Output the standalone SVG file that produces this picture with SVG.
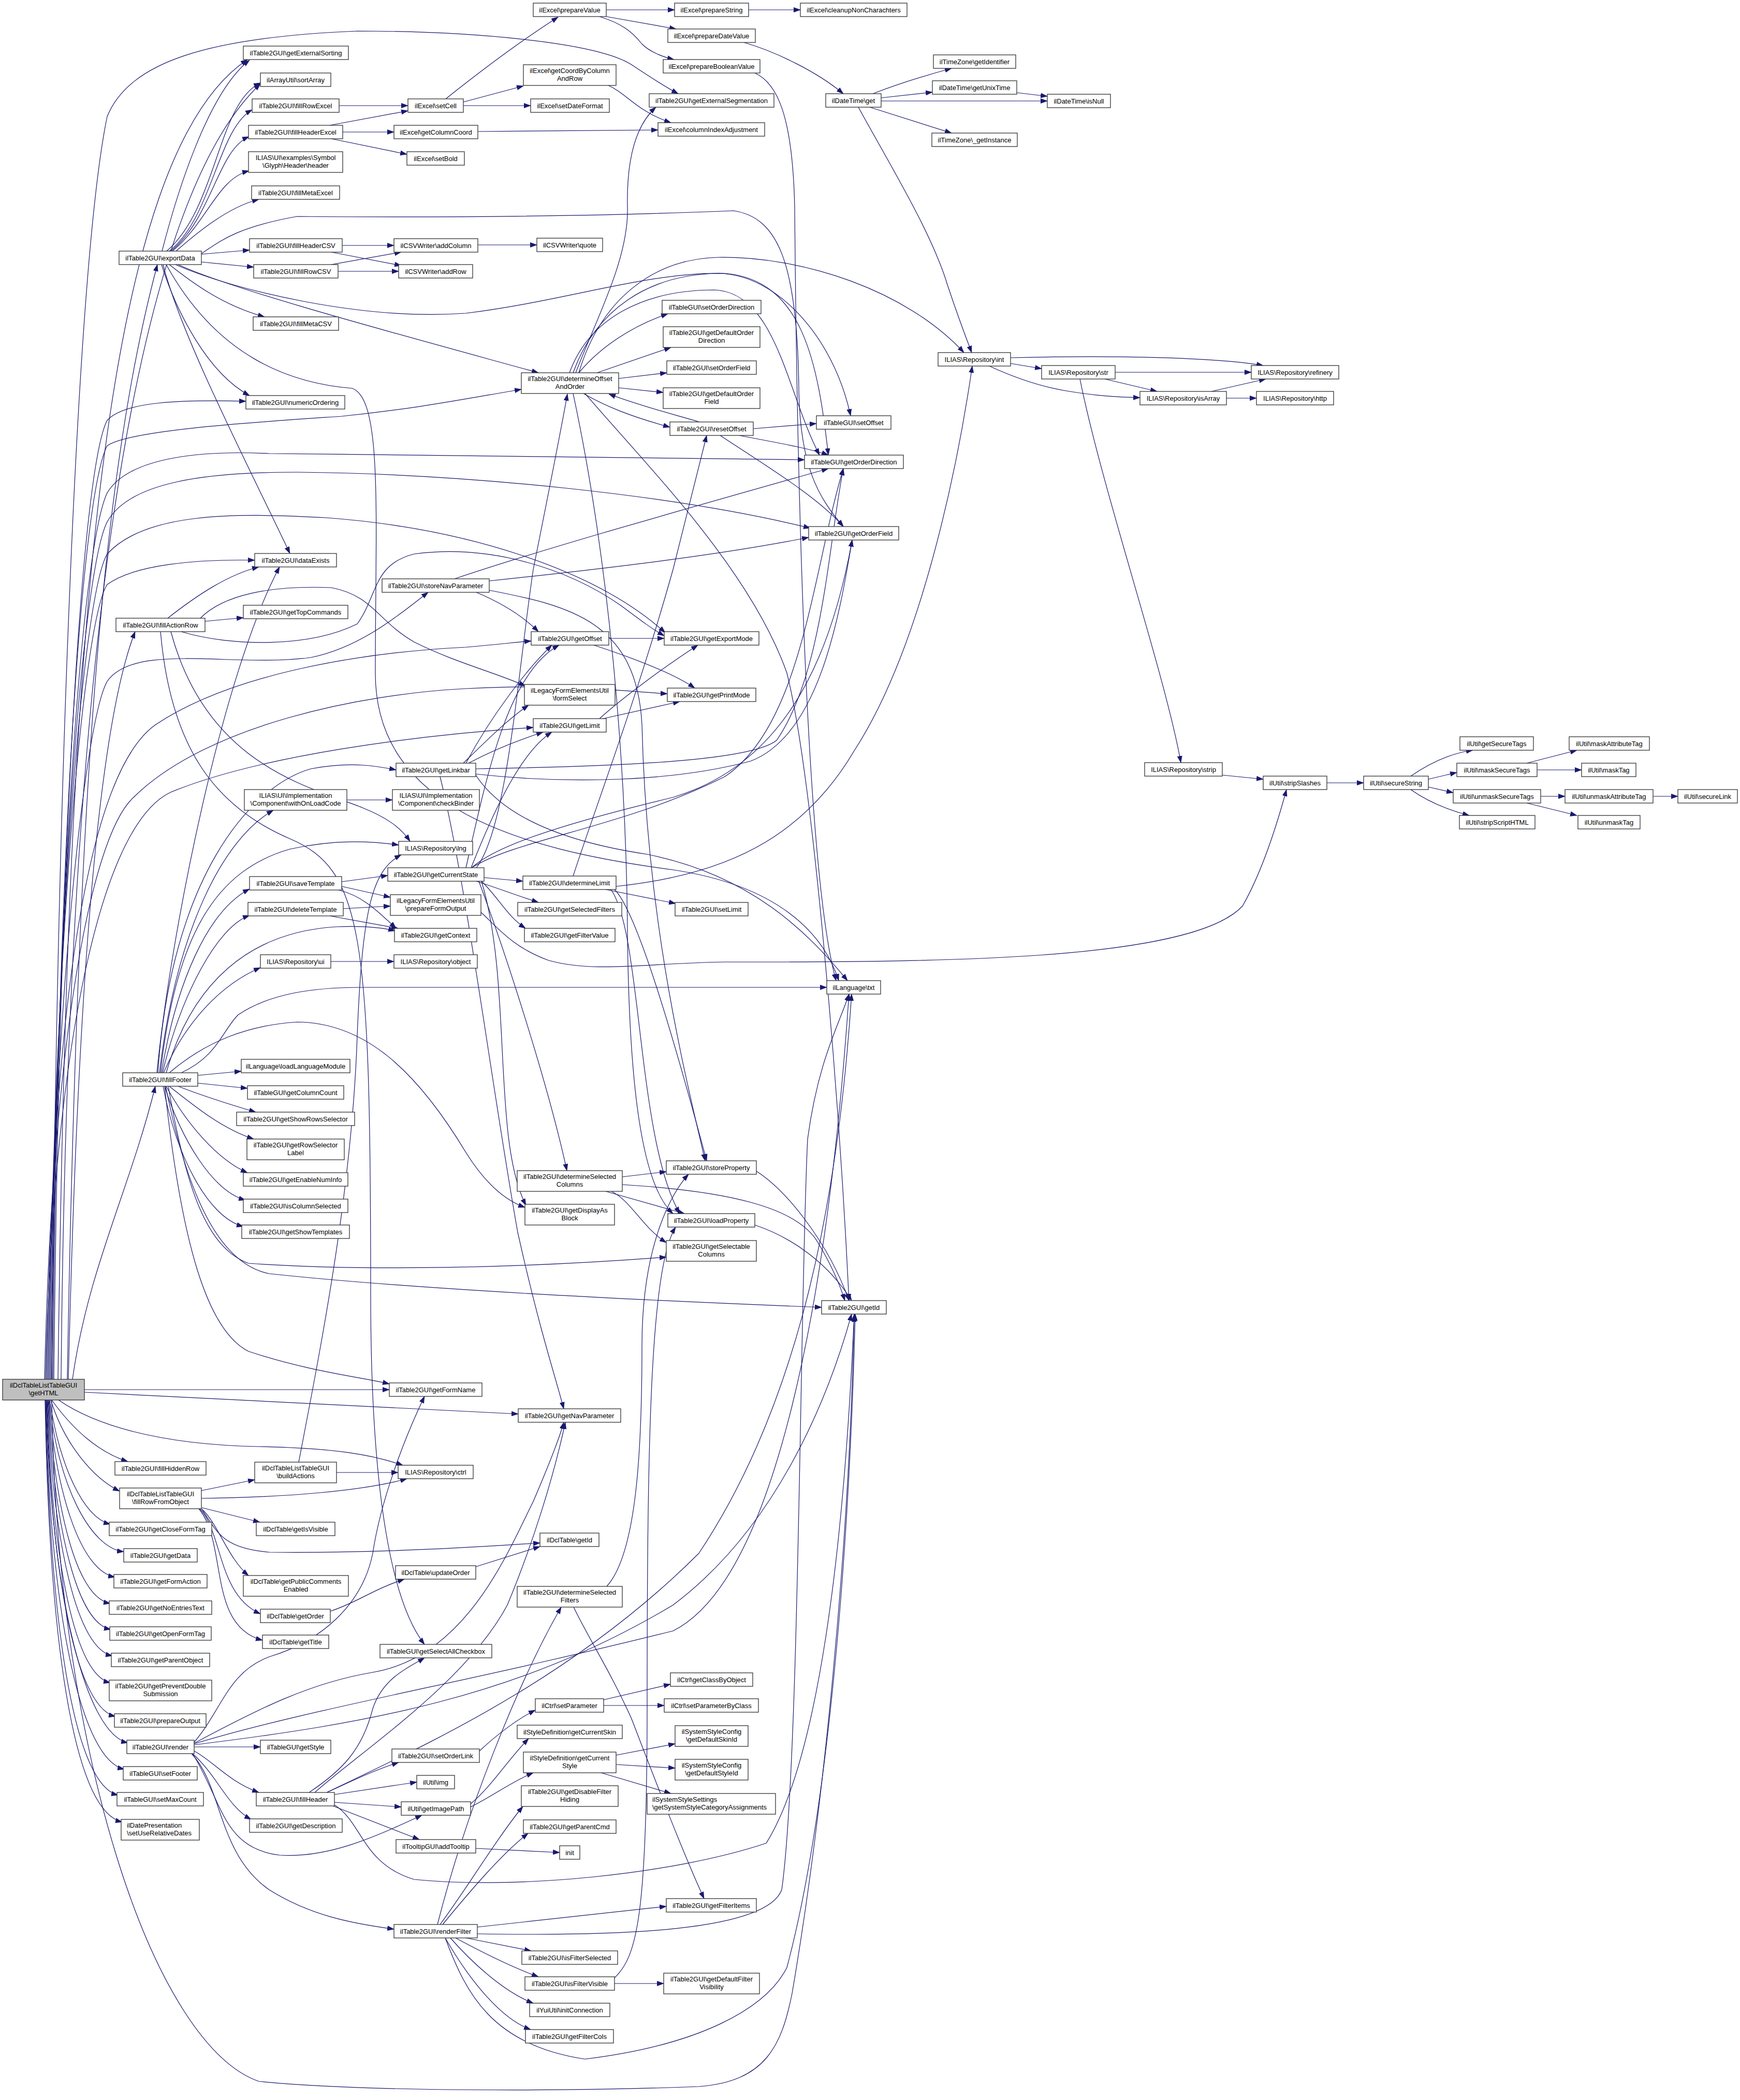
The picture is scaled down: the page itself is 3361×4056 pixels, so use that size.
<svg xmlns="http://www.w3.org/2000/svg" width="3361" height="4056" viewBox="0 0 3361 4056">
<style>
.node rect { fill: #ffffff; stroke: #333333; stroke-width: 1.3; }
.node.root rect { fill: #bfbfbf; }
.node text { font-family: "Liberation Sans", Arial, sans-serif; font-size: 13px; fill: #000000; text-anchor: middle; }
.node text.l { text-anchor: start; }
#edges path { fill: none; stroke: #191970; stroke-width: 1.2; marker-end: url(#arr); }
</style>
<defs>
<marker id="arr" markerUnits="userSpaceOnUse" markerWidth="14" markerHeight="10" viewBox="0 0 14 10" refX="13" refY="5" orient="auto"><path d="M0,0 L14,5 L0,10 z" fill="#191970"/></marker>
</defs>
<rect x="0" y="0" width="3361" height="4056" fill="#ffffff"/>
<g id="edges">
<path d="M 100 2704 C 140 2760, 190 2805, 247 2823"/>
<path d="M 98 2704 C 125 2790, 180 2855, 231 2880"/>
<path d="M 96 2704 C 115 2830, 160 2930, 213 2944"/>
<path d="M 95 2704 C 112 2870, 175 2990, 239 2997"/>
<path d="M 94 2704 C 110 2900, 160 3035, 222 3046"/>
<path d="M 93 2704 C 108 2930, 150 3085, 213 3097"/>
<path d="M 92 2704 C 106 2960, 150 3135, 214 3147"/>
<path d="M 91 2704 C 104 2990, 150 3185, 217 3198"/>
<path d="M 90 2704 C 102 3020, 145 3235, 213 3250"/>
<path d="M 90 2704 C 100 3060, 150 3300, 223 3315"/>
<path d="M 89 2704 C 99 3100, 170 3350, 247 3366"/>
<path d="M 88 2704 C 98 3140, 160 3400, 240 3417"/>
<path d="M 88 2704 C 97 3180, 150 3450, 228 3467"/>
<path d="M 87 2704 C 96 3220, 150 3500, 236 3519"/>
<path d="M 100 2704 C 110 3400, 300 3950, 500 4020 C 700 4040, 1100 4040, 1350 4030 C 1480 4020, 1510 3950, 1530 3850 C 1590 3500, 1640 3000, 1650 2540"/>
<path d="M 163 2684 L 752 2684"/>
<path d="M 163 2689 C 500 2705, 800 2722, 1001 2731"/>
<path d="M 113 2704 C 180 2750, 300 2790, 500 2794 C 650 2797, 720 2810, 778 2830"/>
<path d="M 130 2664 C 150 1500, 200 900, 304 511"/>
<path d="M 132 2664 C 150 1900, 190 1400, 261 1220"/>
<path d="M 140 2664 C 170 2450, 250 2300, 300 2098"/>
<path d="M 112 2664 C 130 1200, 200 300, 478 115"/>
<path d="M 118 2664 C 130 1300, 250 400, 503 162"/>
<path d="M 100 2664 C 110 1500, 150 500, 207 225 C 250 120, 400 72, 690 60 C 900 60, 1150 80, 1220 125 C 1250 145, 1280 165, 1310 181"/>
<path d="M 104 2664 C 115 1600, 160 900, 207 812 C 240 775, 350 772, 475 775"/>
<path d="M 102 2664 C 112 1600, 160 950, 207 861 C 250 830, 500 815, 660 804 C 800 790, 900 770, 1007 752"/>
<path d="M 100 2664 C 110 1700, 160 1050, 207 952 C 250 880, 400 870, 520 876 C 900 880, 1300 883, 1554 888"/>
<path d="M 98 2664 C 108 1750, 160 1100, 207 1008 C 250 930, 400 912, 574 912 C 900 915, 1300 955, 1565 1020"/>
<path d="M 96 2664 C 106 1800, 160 1150, 207 1070 C 280 990, 450 990, 631 1000 C 900 1020, 1150 1100, 1285 1222"/>
<path d="M 94 2664 C 104 1850, 160 1200, 207 1129 C 260 1090, 380 1080, 492 1082"/>
<path d="M 92 2664 C 102 2000, 160 1400, 207 1316 C 260 1240, 450 1290, 600 1270 C 700 1250, 780 1180, 827 1144"/>
<path d="M 90 2664 C 100 2000, 160 1500, 300 1400 C 450 1300, 700 1260, 900 1250 C 960 1245, 1000 1240, 1026 1238"/>
<path d="M 88 2664 C 100 2100, 180 1600, 330 1530 C 500 1460, 800 1420, 1030 1405"/>
<path d="M 86 2664 C 100 2050, 170 1620, 258 1540 C 400 1400, 700 1340, 900 1330 C 1100 1320, 1200 1335, 1289 1340"/>
<path d="M 313 485 C 340 380, 400 180, 482 116"/>
<path d="M 322 485 C 420 400, 420 200, 503 160"/>
<path d="M 327 485 C 410 420, 420 250, 487 212"/>
<path d="M 330 485 C 410 420, 420 290, 481 264"/>
<path d="M 333 485 C 400 430, 420 345, 481 330"/>
<path d="M 340 485 C 380 450, 440 400, 500 385"/>
<path d="M 389 491 L 482 483"/>
<path d="M 389 506 L 490 516"/>
<path d="M 327 511 C 370 545, 430 590, 511 612"/>
<path d="M 312 511 C 340 600, 400 720, 482 764"/>
<path d="M 315 511 C 350 650, 480 900, 560 1069"/>
<path d="M 344 511 C 450 560, 750 640, 1040 720"/>
<path d="M 389 490 C 420 470, 450 440, 574 418 C 800 420, 1100 420, 1417 407 C 1500 420, 1540 500, 1543 750 C 1545 900, 1580 960, 1629 1017"/>
<path d="M 339 511 C 450 560, 700 620, 900 605 C 1100 580, 1250 525, 1400 528 C 1550 540, 1580 700, 1600 879"/>
<path d="M 321 511 C 420 690, 560 740, 680 750 C 740 770, 725 1000, 725 1300 C 725 1560, 1000 1640, 1300 1680 C 1500 1710, 1590 1800, 1620 1894"/>
<path d="M 655 204 L 788 204"/>
<path d="M 637 242 L 788 214"/>
<path d="M 662 255 L 761 255"/>
<path d="M 640 268 L 786 298"/>
<path d="M 861 191 C 950 120, 1020 70, 1078 33"/>
<path d="M 895 197 L 1011 166"/>
<path d="M 895 204 L 1025 204"/>
<path d="M 923 254 L 1271 251"/>
<path d="M 1175 165 C 1210 180, 1230 215, 1296 237"/>
<path d="M 1171 19 L 1303 19"/>
<path d="M 1171 32 L 1306 56"/>
<path d="M 1158 32 C 1200 45, 1220 60, 1240 85 C 1255 100, 1280 110, 1302 115"/>
<path d="M 1446 19 L 1546 19"/>
<path d="M 1437 82 C 1500 100, 1580 140, 1629 181"/>
<path d="M 1686 181 C 1740 160, 1790 145, 1838 132"/>
<path d="M 1702 189 L 1801 178"/>
<path d="M 1702 195 L 2023 195"/>
<path d="M 1680 207 L 1838 257"/>
<path d="M 1964 179 L 2023 186"/>
<path d="M 1658 207 C 1720 320, 1800 450, 1830 550 C 1850 610, 1865 650, 1877 681"/>
<path d="M 1952 702 L 2012 712"/>
<path d="M 1952 691 C 2150 686, 2350 690, 2440 706"/>
<path d="M 1911 707 C 1950 725, 2000 745, 2060 755 C 2120 765, 2160 767, 2202 768"/>
<path d="M 2154 719 L 2417 719"/>
<path d="M 2134 732 L 2235 756"/>
<path d="M 2340 756 L 2445 732"/>
<path d="M 2369 769 L 2427 769"/>
<path d="M 2086 732 C 2130 950, 2250 1300, 2281 1473"/>
<path d="M 2361 1497 L 2440 1505"/>
<path d="M 2563 1512 L 2634 1512"/>
<path d="M 2725 1499 C 2760 1475, 2800 1455, 2845 1449"/>
<path d="M 2759 1505 L 2814 1492"/>
<path d="M 2759 1520 L 2807 1531"/>
<path d="M 2725 1525 C 2760 1550, 2800 1565, 2838 1575"/>
<path d="M 2949 1474 L 3046 1449"/>
<path d="M 2969 1487 L 3055 1487"/>
<path d="M 2976 1538 L 3023 1538"/>
<path d="M 3193 1538 L 3241 1538"/>
<path d="M 2949 1551 L 3046 1575"/>
<path d="M 929 1762 C 960 1790, 990 1830, 1060 1855 C 1150 1880, 1250 1860, 1400 1858 C 1800 1858, 2300 1858, 2400 1750 C 2440 1680, 2470 1580, 2485 1525"/>
<path d="M 923 473 L 1037 473"/>
<path d="M 661 474 L 761 474"/>
<path d="M 640 487 L 775 513"/>
<path d="M 640 511 L 775 487"/>
<path d="M 653 524 L 770 524"/>
<path d="M 1118 720 C 1160 670, 1220 630, 1290 606"/>
<path d="M 1153 720 L 1296 671"/>
<path d="M 1195 731 L 1288 720"/>
<path d="M 1195 749 L 1281 758"/>
<path d="M 1127 760 C 1170 785, 1220 805, 1294 825"/>
<path d="M 1351 815 C 1300 800, 1240 785, 1176 761"/>
<path d="M 1455 828 L 1577 818"/>
<path d="M 1428 841 C 1500 855, 1560 865, 1600 879"/>
<path d="M 1391 841 C 1480 900, 1580 960, 1629 1017"/>
<path d="M 1112 720 C 1150 620, 1215 500, 1212 400 C 1210 300, 1230 240, 1267 207"/>
<path d="M 1107 720 C 1150 600, 1250 530, 1388 528 C 1500 530, 1610 650, 1643 803"/>
<path d="M 1100 720 C 1140 610, 1250 560, 1380 560 C 1500 565, 1520 760, 1583 879"/>
<path d="M 1118 720 C 1160 580, 1260 500, 1388 497 C 1550 495, 1750 560, 1862 681"/>
<path d="M 1107 760 C 1180 1100, 1210 1500, 1212 1800 C 1215 2100, 1240 2290, 1300 2344"/>
<path d="M 1130 760 C 1250 900, 1450 1100, 1520 1300 C 1570 1500, 1620 2100, 1640 2512"/>
<path d="M 1458 141 C 1500 160, 1531 220, 1535 400 C 1540 1000, 1560 1700, 1615 1894"/>
<path d="M 324 1194 C 380 1150, 440 1110, 500 1095"/>
<path d="M 396 1200 L 470 1193"/>
<path d="M 387 1194 C 430 1150, 520 1130, 640 1135 C 720 1150, 730 1200, 800 1240 C 880 1280, 960 1300, 1015 1325"/>
<path d="M 330 1220 C 400 1480, 600 1520, 700 1560 C 750 1580, 775 1600, 792 1625"/>
<path d="M 310 1220 C 330 1450, 420 1560, 560 1620 C 700 1680, 716 1800, 716 2500 C 716 2900, 760 3100, 820 3176"/>
<path d="M 350 1220 C 450 1250, 600 1250, 690 1205 C 730 1150, 720 1090, 800 1070 C 950 1050, 1100 1100, 1200 1170 C 1240 1200, 1260 1215, 1283 1228"/>
<path d="M 945 1122 C 1200 1095, 1400 1070, 1562 1038"/>
<path d="M 878 1118 C 1050 1060, 1300 990, 1600 905"/>
<path d="M 920 1144 C 970 1165, 1010 1190, 1040 1220"/>
<path d="M 945 1140 C 1100 1170, 1230 1200, 1240 1400 C 1250 1800, 1330 2100, 1362 2242"/>
<path d="M 1176 1233 L 1283 1233"/>
<path d="M 1147 1246 C 1220 1270, 1300 1300, 1342 1329"/>
<path d="M 1158 1388 C 1200 1350, 1280 1290, 1348 1246"/>
<path d="M 1165 1388 L 1313 1355"/>
<path d="M 900 1474 C 950 1380, 1020 1290, 1066 1246"/>
<path d="M 905 1474 C 950 1450, 1000 1430, 1049 1414"/>
<path d="M 895 1474 C 940 1430, 980 1390, 1021 1362"/>
<path d="M 919 1495 C 1100 1515, 1300 1510, 1450 1470 C 1580 1420, 1620 1200, 1646 1043"/>
<path d="M 919 1485 C 1200 1480, 1450 1470, 1500 1430 C 1590 1300, 1600 1050, 1629 905"/>
<path d="M 919 1497 C 960 1560, 1050 1620, 1250 1650 C 1450 1690, 1560 1800, 1637 1894"/>
<path d="M 850 1500 C 900 1700, 950 2100, 1000 2380 C 1040 2560, 1070 2650, 1089 2721"/>
<path d="M 920 1676 C 980 1600, 1000 1300, 1030 1100 C 1060 950, 1080 850, 1096 761"/>
<path d="M 935 1695 L 1010 1702"/>
<path d="M 920 1702 C 960 1715, 1000 1730, 1040 1743"/>
<path d="M 930 1702 C 960 1730, 980 1770, 1015 1793"/>
<path d="M 925 1702 C 980 1850, 1060 2100, 1095 2261"/>
<path d="M 930 1702 C 990 1900, 950 2200, 1016 2328"/>
<path d="M 911 1676 C 950 1640, 1050 1600, 1300 1540 C 1500 1480, 1600 1300, 1646 1043"/>
<path d="M 911 1676 C 1000 1620, 1200 1600, 1400 1500 C 1550 1400, 1570 1100, 1629 905"/>
<path d="M 900 1676 C 940 1500, 980 1300, 1080 1246"/>
<path d="M 910 1676 C 960 1550, 1010 1450, 1066 1414"/>
<path d="M 1170 1718 L 1305 1745"/>
<path d="M 1187 1718 C 1230 1760, 1300 2000, 1365 2242"/>
<path d="M 1180 1718 C 1240 1800, 1230 2200, 1313 2344"/>
<path d="M 1107 1692 C 1150 1560, 1230 1350, 1300 1100 C 1330 980, 1350 900, 1365 841"/>
<path d="M 1190 1712 C 1400 1690, 1550 1620, 1650 1450 C 1780 1250, 1850 900, 1878 707"/>
<path d="M 1202 2273 L 1287 2263"/>
<path d="M 1170 2301 L 1322 2344"/>
<path d="M 1181 2301 C 1220 2320, 1240 2370, 1287 2400"/>
<path d="M 1202 2288 C 1400 2300, 1540 2330, 1580 2400 C 1610 2450, 1625 2490, 1632 2512"/>
<path d="M 1461 2262 C 1520 2300, 1600 2400, 1640 2512"/>
<path d="M 1458 2366 C 1530 2390, 1600 2440, 1645 2512"/>
<path d="M 382 2077 L 466 2069"/>
<path d="M 382 2092 L 478 2102"/>
<path d="M 344 2098 C 400 2120, 450 2135, 494 2148"/>
<path d="M 327 2098 C 380 2140, 430 2180, 490 2200"/>
<path d="M 321 2098 C 360 2170, 420 2240, 478 2265"/>
<path d="M 318 2098 C 350 2200, 410 2300, 474 2318"/>
<path d="M 315 2098 C 340 2230, 400 2350, 470 2369"/>
<path d="M 312 2072 C 340 1900, 400 1760, 482 1717"/>
<path d="M 314 2072 C 350 1920, 420 1790, 482 1768"/>
<path d="M 316 2072 C 360 1970, 430 1900, 503 1869"/>
<path d="M 308 2072 C 340 1800, 430 1620, 528 1565"/>
<path d="M 310 2072 C 340 1800, 420 1680, 560 1640 C 650 1620, 720 1625, 770 1632"/>
<path d="M 321 2072 C 370 1900, 480 1800, 650 1790 C 700 1788, 740 1792, 763 1798"/>
<path d="M 305 2072 C 330 1700, 480 1520, 600 1485 C 680 1470, 730 1480, 765 1487"/>
<path d="M 303 2072 C 330 1800, 430 1300, 540 1095"/>
<path d="M 350 2072 C 420 2040, 430 1990, 460 1960 C 520 1920, 600 1907, 700 1907 L 1597 1907"/>
<path d="M 327 2072 C 400 2010, 480 1980, 574 1974 C 700 1975, 800 2060, 900 2226 C 940 2290, 980 2320, 1014 2332"/>
<path d="M 320 2098 C 360 2300, 420 2440, 520 2460 C 800 2490, 1200 2510, 1587 2525"/>
<path d="M 325 2098 C 360 2300, 400 2410, 480 2440 C 700 2455, 1000 2450, 1287 2428"/>
<path d="M 318 2098 C 350 2400, 400 2570, 480 2610 C 600 2650, 700 2660, 752 2673"/>
<path d="M 670 1545 L 758 1545"/>
<path d="M 660 1703 L 749 1691"/>
<path d="M 660 1712 L 754 1733"/>
<path d="M 654 1719 C 700 1730, 730 1760, 765 1793"/>
<path d="M 663 1755 L 754 1750"/>
<path d="M 637 1769 L 769 1793"/>
<path d="M 639 1857 L 761 1857"/>
<path d="M 389 2879 L 492 2858"/>
<path d="M 389 2894 C 550 2892, 700 2880, 786 2856"/>
<path d="M 390 2912 L 502 2940"/>
<path d="M 389 2914 C 420 2940, 440 3010, 480 3043"/>
<path d="M 386 2914 C 430 2960, 420 3080, 503 3117"/>
<path d="M 384 2914 C 440 2980, 400 3140, 507 3168"/>
<path d="M 390 2915 C 420 2960, 430 2990, 520 2998 C 700 3000, 900 2990, 1043 2980"/>
<path d="M 638 3112 C 690 3095, 720 3070, 781 3050"/>
<path d="M 919 3026 L 1043 2987"/>
<path d="M 650 2844 L 769 2844"/>
<path d="M 577 2824 C 620 2600, 680 2300, 690 2000 C 700 1750, 720 1680, 775 1651"/>
<path d="M 375 3374 L 503 3374"/>
<path d="M 375 3382 C 410 3400, 440 3440, 500 3462"/>
<path d="M 372 3387 C 420 3430, 440 3490, 485 3514"/>
<path d="M 370 3387 C 430 3450, 420 3580, 520 3650 C 600 3700, 680 3715, 761 3726"/>
<path d="M 372 3387 C 430 3480, 430 3570, 540 3583 C 640 3590, 740 3540, 815 3506"/>
<path d="M 375 3365 C 430 3300, 440 3230, 520 3200 C 620 3170, 700 3100, 720 3000 C 735 2900, 780 2780, 820 2697"/>
<path d="M 375 3367 C 500 3300, 600 3250, 720 3230 C 900 3200, 980 3000, 1030 2900 C 1060 2830, 1080 2780, 1089 2747"/>
<path d="M 375 3368 C 600 3300, 900 3250, 1300 3150 C 1500 3050, 1600 2500, 1640 1920"/>
<path d="M 375 3370 C 700 3330, 1000 3280, 1300 3100 C 1500 2950, 1600 2700, 1645 2538"/>
<path d="M 631 3462 C 680 3440, 720 3420, 770 3404"/>
<path d="M 646 3466 L 805 3442"/>
<path d="M 646 3481 L 775 3490"/>
<path d="M 643 3488 L 810 3553"/>
<path d="M 597 3462 C 660 3420, 700 3380, 720 3300 C 740 3240, 790 3220, 820 3202"/>
<path d="M 608 3462 C 700 3380, 900 3250, 980 3100 C 1030 2980, 1070 2850, 1092 2747"/>
<path d="M 631 3462 C 800 3380, 1100 3250, 1350 3000 C 1550 2700, 1620 2300, 1645 1920"/>
<path d="M 646 3486 C 700 3520, 700 3600, 800 3630 C 1000 3650, 1300 3620, 1480 3560 C 1580 3400, 1630 3000, 1650 2538"/>
<path d="M 922 3722 L 1287 3682"/>
<path d="M 900 3743 L 1026 3768"/>
<path d="M 880 3743 C 930 3770, 990 3800, 1040 3818"/>
<path d="M 870 3743 C 920 3800, 980 3850, 1030 3869"/>
<path d="M 860 3743 C 910 3830, 970 3900, 1025 3920"/>
<path d="M 850 3717 C 900 3650, 960 3550, 1010 3489"/>
<path d="M 855 3717 C 910 3650, 970 3580, 1020 3541"/>
<path d="M 845 3717 C 900 3500, 1000 3250, 1084 3104"/>
<path d="M 922 3735 C 1200 3740, 1480 3730, 1510 3650 C 1545 3400, 1545 2500, 1560 2200 C 1580 2050, 1620 1980, 1640 1920"/>
<path d="M 860 3743 C 900 3850, 950 3950, 1130 3977 C 1350 3950, 1480 3880, 1520 3800 C 1600 3500, 1640 3000, 1652 2538"/>
<path d="M 926 3382 C 960 3350, 1000 3320, 1034 3303"/>
<path d="M 1166 3283 L 1295 3253"/>
<path d="M 1166 3294 L 1283 3294"/>
<path d="M 909 3484 C 950 3450, 980 3400, 1021 3358"/>
<path d="M 909 3490 C 950 3470, 990 3440, 1030 3424"/>
<path d="M 1190 3390 L 1304 3368"/>
<path d="M 1190 3408 L 1304 3415"/>
<path d="M 1161 3424 L 1296 3464"/>
<path d="M 919 3570 L 1081 3578"/>
<path d="M 1187 3831 L 1282 3831"/>
<path d="M 1187 3820 C 1230 3780, 1250 3700, 1250 3300 C 1250 2800, 1255 2450, 1305 2370"/>
<path d="M 1108 3104 C 1140 3170, 1180 3230, 1220 3320 C 1270 3450, 1320 3580, 1360 3667"/>
<path d="M 1172 3064 C 1230 3000, 1240 2800, 1240 2600 C 1240 2400, 1300 2300, 1330 2268"/>
</g>
<g id="n_root" class="node root"><rect x="5" y="2664" width="158" height="40"/><text x="84" y="2680">ilDclTableListTableGUI<tspan x="84" dy="14.5">\getHTML</tspan></text></g>
<g id="n_exportData" class="node"><rect x="230" y="485" width="159" height="26"/><text x="309.5" y="502.5">ilTable2GUI\exportData</text></g>
<g id="n_fillActionRow" class="node"><rect x="224" y="1194" width="172" height="26"/><text x="310" y="1211.5">ilTable2GUI\fillActionRow</text></g>
<g id="n_fillFooter" class="node"><rect x="237" y="2072" width="145" height="26"/><text x="309.5" y="2089.5">ilTable2GUI\fillFooter</text></g>
<g id="n_fillHiddenRow" class="node"><rect x="222" y="2823" width="176" height="26"/><text x="310" y="2840.5">ilTable2GUI\fillHiddenRow</text></g>
<g id="n_fillRowFromObject" class="node"><rect x="231" y="2874" width="158" height="40"/><text x="310" y="2890">ilDclTableListTableGUI<tspan x="310" dy="14.5">\fillRowFromObject</tspan></text></g>
<g id="n_getCloseFormTag" class="node"><rect x="211" y="2940" width="198" height="26"/><text x="310" y="2957.5">ilTable2GUI\getCloseFormTag</text></g>
<g id="n_getData" class="node"><rect x="239" y="2991" width="142" height="26"/><text x="310" y="3008.5">ilTable2GUI\getData</text></g>
<g id="n_getFormAction" class="node"><rect x="220" y="3041" width="180" height="26"/><text x="310" y="3058.5">ilTable2GUI\getFormAction</text></g>
<g id="n_getNoEntriesText" class="node"><rect x="211" y="3092" width="198" height="26"/><text x="310" y="3109.5">ilTable2GUI\getNoEntriesText</text></g>
<g id="n_getOpenFormTag" class="node"><rect x="212" y="3142" width="196" height="26"/><text x="310" y="3159.5">ilTable2GUI\getOpenFormTag</text></g>
<g id="n_getParentObject" class="node"><rect x="215" y="3193" width="190" height="26"/><text x="310" y="3210.5">ilTable2GUI\getParentObject</text></g>
<g id="n_getPreventDoubleSubmission" class="node"><rect x="211" y="3245" width="198" height="40"/><text x="310" y="3261">ilTable2GUI\getPreventDouble<tspan x="310" dy="14.5">Submission</tspan></text></g>
<g id="n_prepareOutput" class="node"><rect x="221" y="3310" width="177" height="26"/><text x="309.5" y="3327.5">ilTable2GUI\prepareOutput</text></g>
<g id="n_render" class="node"><rect x="245" y="3361" width="130" height="26"/><text x="310" y="3378.5">ilTable2GUI\render</text></g>
<g id="n_setFooter" class="node"><rect x="238" y="3412" width="143" height="26"/><text x="309.5" y="3429.5">ilTableGUI\setFooter</text></g>
<g id="n_setMaxCount" class="node"><rect x="226" y="3462" width="167" height="26"/><text x="309.5" y="3479.5">ilTableGUI\setMaxCount</text></g>
<g id="n_setUseRelativeDates" class="node"><rect x="234" y="3514" width="151" height="40"/><text class="l" x="245" y="3530">ilDatePresentation<tspan x="245" dy="14.5">\setUseRelativeDates</tspan></text></g>
<g id="n_getExternalSorting" class="node"><rect x="470" y="89" width="203" height="26"/><text x="571.5" y="106.5">ilTable2GUI\getExternalSorting</text></g>
<g id="n_sortArray" class="node"><rect x="503" y="141" width="136" height="26"/><text x="571" y="158.5">ilArrayUtil\sortArray</text></g>
<g id="n_fillRowExcel" class="node"><rect x="487" y="191" width="168" height="26"/><text x="571" y="208.5">ilTable2GUI\fillRowExcel</text></g>
<g id="n_fillHeaderExcel" class="node"><rect x="480" y="242" width="182" height="26"/><text x="571" y="259.5">ilTable2GUI\fillHeaderExcel</text></g>
<g id="n_header" class="node"><rect x="480" y="293" width="182" height="40"/><text x="571" y="309">ILIAS\UI\examples\Symbol<tspan x="571" dy="14.5">\Glyph\Header\header</tspan></text></g>
<g id="n_fillMetaExcel" class="node"><rect x="486" y="359" width="170" height="26"/><text x="571" y="376.5">ilTable2GUI\fillMetaExcel</text></g>
<g id="n_fillHeaderCSV" class="node"><rect x="482" y="461" width="179" height="26"/><text x="571.5" y="478.5">ilTable2GUI\fillHeaderCSV</text></g>
<g id="n_fillRowCSV" class="node"><rect x="490" y="511" width="163" height="26"/><text x="571.5" y="528.5">ilTable2GUI\fillRowCSV</text></g>
<g id="n_fillMetaCSV" class="node"><rect x="489" y="612" width="165" height="26"/><text x="571.5" y="629.5">ilTable2GUI\fillMetaCSV</text></g>
<g id="n_numericOrdering" class="node"><rect x="475" y="764" width="191" height="26"/><text x="570.5" y="781.5">ilTable2GUI\numericOrdering</text></g>
<g id="n_dataExists" class="node"><rect x="492" y="1069" width="158" height="26"/><text x="571" y="1086.5">ilTable2GUI\dataExists</text></g>
<g id="n_getTopCommands" class="node"><rect x="470" y="1169" width="202" height="26"/><text x="571" y="1186.5">ilTable2GUI\getTopCommands</text></g>
<g id="n_withOnLoadCode" class="node"><rect x="472" y="1525" width="198" height="40"/><text x="571" y="1541">ILIAS\UI\Implementation<tspan x="571" dy="14.5">\Component\withOnLoadCode</tspan></text></g>
<g id="n_saveTemplate" class="node"><rect x="482" y="1693" width="178" height="26"/><text x="571" y="1710.5">ilTable2GUI\saveTemplate</text></g>
<g id="n_deleteTemplate" class="node"><rect x="479" y="1743" width="184" height="26"/><text x="571" y="1760.5">ilTable2GUI\deleteTemplate</text></g>
<g id="n_ui" class="node"><rect x="503" y="1844" width="136" height="26"/><text x="571" y="1861.5">ILIAS\Repository\ui</text></g>
<g id="n_loadLanguageModule" class="node"><rect x="466" y="2046" width="210" height="26"/><text x="571" y="2063.5">ilLanguage\loadLanguageModule</text></g>
<g id="n_getColumnCount" class="node"><rect x="478" y="2097" width="186" height="26"/><text x="571" y="2114.5">ilTableGUI\getColumnCount</text></g>
<g id="n_getShowRowsSelector" class="node"><rect x="457" y="2148" width="228" height="26"/><text x="571" y="2165.5">ilTable2GUI\getShowRowsSelector</text></g>
<g id="n_getRowSelectorLabel" class="node"><rect x="477" y="2200" width="188" height="40"/><text x="571" y="2216">ilTable2GUI\getRowSelector<tspan x="571" dy="14.5">Label</tspan></text></g>
<g id="n_getEnableNumInfo" class="node"><rect x="470" y="2265" width="202" height="26"/><text x="571" y="2282.5">ilTable2GUI\getEnableNumInfo</text></g>
<g id="n_isColumnSelected" class="node"><rect x="470" y="2316" width="202" height="26"/><text x="571" y="2333.5">ilTable2GUI\isColumnSelected</text></g>
<g id="n_getShowTemplates" class="node"><rect x="467" y="2366" width="208" height="26"/><text x="571" y="2383.5">ilTable2GUI\getShowTemplates</text></g>
<g id="n_buildActions" class="node"><rect x="492" y="2824" width="158" height="40"/><text x="571" y="2840">ilDclTableListTableGUI<tspan x="571" dy="14.5">\buildActions</tspan></text></g>
<g id="n_getIsVisible" class="node"><rect x="495" y="2940" width="152" height="26"/><text x="571" y="2957.5">ilDclTable\getIsVisible</text></g>
<g id="n_getPublicCommentsEnabled" class="node"><rect x="470" y="3043" width="203" height="40"/><text x="571.5" y="3059">ilDclTable\getPublicComments<tspan x="571.5" dy="14.5">Enabled</tspan></text></g>
<g id="n_getOrder" class="node"><rect x="503" y="3108" width="135" height="26"/><text x="570.5" y="3125.5">ilDclTable\getOrder</text></g>
<g id="n_getTitle" class="node"><rect x="507" y="3158" width="128" height="26"/><text x="571" y="3175.5">ilDclTable\getTitle</text></g>
<g id="n_getStyle" class="node"><rect x="503" y="3361" width="136" height="26"/><text x="571" y="3378.5">ilTableGUI\getStyle</text></g>
<g id="n_fillHeader" class="node"><rect x="495" y="3462" width="151" height="26"/><text x="570.5" y="3479.5">ilTable2GUI\fillHeader</text></g>
<g id="n_getDescription" class="node"><rect x="482" y="3513" width="179" height="26"/><text x="571.5" y="3530.5">ilTable2GUI\getDescription</text></g>
<g id="n_setCell" class="node"><rect x="788" y="191" width="107" height="26"/><text x="841.5" y="208.5">ilExcel\setCell</text></g>
<g id="n_getColumnCoord" class="node"><rect x="761" y="242" width="162" height="26"/><text x="842" y="259.5">ilExcel\getColumnCoord</text></g>
<g id="n_setBold" class="node"><rect x="786" y="293" width="111" height="26"/><text x="841.5" y="310.5">ilExcel\setBold</text></g>
<g id="n_addColumn" class="node"><rect x="761" y="461" width="162" height="26"/><text x="842" y="478.5">ilCSVWriter\addColumn</text></g>
<g id="n_addRow" class="node"><rect x="770" y="511" width="143" height="26"/><text x="841.5" y="528.5">ilCSVWriter\addRow</text></g>
<g id="n_storeNavParameter" class="node"><rect x="738" y="1118" width="207" height="26"/><text x="841.5" y="1135.5">ilTable2GUI\storeNavParameter</text></g>
<g id="n_getLinkbar" class="node"><rect x="765" y="1474" width="154" height="26"/><text x="842" y="1491.5">ilTable2GUI\getLinkbar</text></g>
<g id="n_checkBinder" class="node"><rect x="758" y="1525" width="168" height="40"/><text x="842" y="1541">ILIAS\UI\Implementation<tspan x="842" dy="14.5">\Component\checkBinder</tspan></text></g>
<g id="n_lng" class="node"><rect x="770" y="1625" width="143" height="26"/><text x="841.5" y="1642.5">ILIAS\Repository\lng</text></g>
<g id="n_getCurrentState" class="node"><rect x="749" y="1676" width="186" height="26"/><text x="842" y="1693.5">ilTable2GUI\getCurrentState</text></g>
<g id="n_prepareFormOutput" class="node"><rect x="754" y="1728" width="175" height="40"/><text x="841.5" y="1744">ilLegacyFormElementsUtil<tspan x="841.5" dy="14.5">\prepareFormOutput</tspan></text></g>
<g id="n_getContext" class="node"><rect x="762" y="1793" width="159" height="26"/><text x="841.5" y="1810.5">ilTable2GUI\getContext</text></g>
<g id="n_object" class="node"><rect x="761" y="1844" width="161" height="26"/><text x="841.5" y="1861.5">ILIAS\Repository\object</text></g>
<g id="n_getFormName" class="node"><rect x="752" y="2671" width="179" height="26"/><text x="841.5" y="2688.5">ilTable2GUI\getFormName</text></g>
<g id="n_ctrl" class="node"><rect x="769" y="2830" width="145" height="26"/><text x="841.5" y="2847.5">ILIAS\Repository\ctrl</text></g>
<g id="n_updateOrder" class="node"><rect x="764" y="3024" width="155" height="26"/><text x="841.5" y="3041.5">ilDclTable\updateOrder</text></g>
<g id="n_getSelectAllCheckbox" class="node"><rect x="734" y="3176" width="216" height="26"/><text x="842" y="3193.5">ilTableGUI\getSelectAllCheckbox</text></g>
<g id="n_setOrderLink" class="node"><rect x="757" y="3378" width="169" height="26"/><text x="841.5" y="3395.5">ilTable2GUI\setOrderLink</text></g>
<g id="n_img" class="node"><rect x="805" y="3429" width="73" height="26"/><text x="841.5" y="3446.5">ilUtil\img</text></g>
<g id="n_getImagePath" class="node"><rect x="775" y="3480" width="134" height="26"/><text x="842" y="3497.5">ilUtil\getImagePath</text></g>
<g id="n_addTooltip" class="node"><rect x="765" y="3553" width="154" height="26"/><text x="842" y="3570.5">ilTooltipGUI\addTooltip</text></g>
<g id="n_renderFilter" class="node"><rect x="761" y="3717" width="161" height="26"/><text x="841.5" y="3734.5">ilTable2GUI\renderFilter</text></g>
<g id="n_prepareValue" class="node"><rect x="1030" y="6" width="141" height="26"/><text x="1100.5" y="23.5">ilExcel\prepareValue</text></g>
<g id="n_getCoordByColumnAndRow" class="node"><rect x="1011" y="125" width="179" height="40"/><text x="1100.5" y="141">ilExcel\getCoordByColumn<tspan x="1100.5" dy="14.5">AndRow</tspan></text></g>
<g id="n_setDateFormat" class="node"><rect x="1025" y="191" width="152" height="26"/><text x="1101" y="208.5">ilExcel\setDateFormat</text></g>
<g id="n_quote" class="node"><rect x="1037" y="460" width="127" height="26"/><text x="1100.5" y="477.5">ilCSVWriter\quote</text></g>
<g id="n_determineOffsetAndOrder" class="node"><rect x="1007" y="720" width="188" height="40"/><text x="1101" y="736">ilTable2GUI\determineOffset<tspan x="1101" dy="14.5">AndOrder</tspan></text></g>
<g id="n_getOffset" class="node"><rect x="1026" y="1220" width="150" height="26"/><text x="1101" y="1237.5">ilTable2GUI\getOffset</text></g>
<g id="n_formSelect" class="node"><rect x="1013" y="1322" width="175" height="40"/><text x="1100.5" y="1338">ilLegacyFormElementsUtil<tspan x="1100.5" dy="14.5">\formSelect</tspan></text></g>
<g id="n_getLimit" class="node"><rect x="1030" y="1388" width="141" height="26"/><text x="1100.5" y="1405.5">ilTable2GUI\getLimit</text></g>
<g id="n_determineLimit" class="node"><rect x="1010" y="1692" width="180" height="26"/><text x="1100" y="1709.5">ilTable2GUI\determineLimit</text></g>
<g id="n_getSelectedFilters" class="node"><rect x="1000" y="1743" width="201" height="26"/><text x="1100.5" y="1760.5">ilTable2GUI\getSelectedFilters</text></g>
<g id="n_getFilterValue" class="node"><rect x="1013" y="1793" width="175" height="26"/><text x="1100.5" y="1810.5">ilTable2GUI\getFilterValue</text></g>
<g id="n_determineSelectedColumns" class="node"><rect x="999" y="2261" width="203" height="40"/><text x="1100.5" y="2277">ilTable2GUI\determineSelected<tspan x="1100.5" dy="14.5">Columns</tspan></text></g>
<g id="n_getDisplayAsBlock" class="node"><rect x="1014" y="2326" width="173" height="40"/><text x="1100.5" y="2342">ilTable2GUI\getDisplayAs<tspan x="1100.5" dy="14.5">Block</tspan></text></g>
<g id="n_getNavParameter" class="node"><rect x="1001" y="2721" width="198" height="26"/><text x="1100" y="2738.5">ilTable2GUI\getNavParameter</text></g>
<g id="n_dclGetId" class="node"><rect x="1043" y="2961" width="114" height="26"/><text x="1100" y="2978.5">ilDclTable\getId</text></g>
<g id="n_determineSelectedFilters" class="node"><rect x="999" y="3064" width="203" height="40"/><text x="1100.5" y="3080">ilTable2GUI\determineSelected<tspan x="1100.5" dy="14.5">Filters</tspan></text></g>
<g id="n_setParameter" class="node"><rect x="1034" y="3281" width="132" height="26"/><text x="1100" y="3298.5">ilCtrl\setParameter</text></g>
<g id="n_getCurrentSkin" class="node"><rect x="999" y="3332" width="203" height="26"/><text x="1100.5" y="3349.5">ilStyleDefinition\getCurrentSkin</text></g>
<g id="n_getCurrentStyle" class="node"><rect x="1011" y="3384" width="179" height="40"/><text x="1100.5" y="3400">ilStyleDefinition\getCurrent<tspan x="1100.5" dy="14.5">Style</tspan></text></g>
<g id="n_getDisableFilterHiding" class="node"><rect x="1007" y="3449" width="187" height="40"/><text x="1100.5" y="3465">ilTable2GUI\getDisableFilter<tspan x="1100.5" dy="14.5">Hiding</tspan></text></g>
<g id="n_getParentCmd" class="node"><rect x="1011" y="3515" width="179" height="26"/><text x="1100.5" y="3532.5">ilTable2GUI\getParentCmd</text></g>
<g id="n_init" class="node"><rect x="1081" y="3565" width="39" height="26"/><text x="1100.5" y="3582.5">init</text></g>
<g id="n_isFilterSelected" class="node"><rect x="1008" y="3768" width="185" height="26"/><text x="1100.5" y="3785.5">ilTable2GUI\isFilterSelected</text></g>
<g id="n_isFilterVisible" class="node"><rect x="1014" y="3818" width="173" height="26"/><text x="1100.5" y="3835.5">ilTable2GUI\isFilterVisible</text></g>
<g id="n_initConnection" class="node"><rect x="1023" y="3869" width="155" height="26"/><text x="1100.5" y="3886.5">ilYuiUtil\initConnection</text></g>
<g id="n_getFilterCols" class="node"><rect x="1015" y="3920" width="170" height="26"/><text x="1100" y="3937.5">ilTable2GUI\getFilterCols</text></g>
<g id="n_prepareString" class="node"><rect x="1303" y="6" width="143" height="26"/><text x="1374.5" y="23.5">ilExcel\prepareString</text></g>
<g id="n_prepareDateValue" class="node"><rect x="1290" y="56" width="169" height="26"/><text x="1374.5" y="73.5">ilExcel\prepareDateValue</text></g>
<g id="n_prepareBooleanValue" class="node"><rect x="1281" y="115" width="187" height="26"/><text x="1374.5" y="132.5">ilExcel\prepareBooleanValue</text></g>
<g id="n_getExternalSegmentation" class="node"><rect x="1254" y="181" width="241" height="26"/><text x="1374.5" y="198.5">ilTable2GUI\getExternalSegmentation</text></g>
<g id="n_columnIndexAdjustment" class="node"><rect x="1271" y="237" width="206" height="26"/><text x="1374" y="254.5">ilExcel\columnIndexAdjustment</text></g>
<g id="n_setOrderDirection" class="node"><rect x="1279" y="580" width="191" height="26"/><text x="1374.5" y="597.5">ilTableGUI\setOrderDirection</text></g>
<g id="n_getDefaultOrderDirection" class="node"><rect x="1281" y="631" width="187" height="40"/><text x="1374.5" y="647">ilTable2GUI\getDefaultOrder<tspan x="1374.5" dy="14.5">Direction</tspan></text></g>
<g id="n_setOrderField" class="node"><rect x="1288" y="697" width="173" height="26"/><text x="1374.5" y="714.5">ilTable2GUI\setOrderField</text></g>
<g id="n_getDefaultOrderField" class="node"><rect x="1281" y="749" width="187" height="40"/><text x="1374.5" y="765">ilTable2GUI\getDefaultOrder<tspan x="1374.5" dy="14.5">Field</tspan></text></g>
<g id="n_resetOffset" class="node"><rect x="1294" y="815" width="161" height="26"/><text x="1374.5" y="832.5">ilTable2GUI\resetOffset</text></g>
<g id="n_getExportMode" class="node"><rect x="1283" y="1220" width="183" height="26"/><text x="1374.5" y="1237.5">ilTable2GUI\getExportMode</text></g>
<g id="n_getPrintMode" class="node"><rect x="1289" y="1329" width="171" height="26"/><text x="1374.5" y="1346.5">ilTable2GUI\getPrintMode</text></g>
<g id="n_setLimit" class="node"><rect x="1304" y="1743" width="141" height="26"/><text x="1374.5" y="1760.5">ilTable2GUI\setLimit</text></g>
<g id="n_storeProperty" class="node"><rect x="1287" y="2242" width="174" height="26"/><text x="1374" y="2259.5">ilTable2GUI\storeProperty</text></g>
<g id="n_loadProperty" class="node"><rect x="1290" y="2344" width="168" height="26"/><text x="1374" y="2361.5">ilTable2GUI\loadProperty</text></g>
<g id="n_getSelectableColumns" class="node"><rect x="1287" y="2396" width="174" height="40"/><text x="1374" y="2412">ilTable2GUI\getSelectable<tspan x="1374" dy="14.5">Columns</tspan></text></g>
<g id="n_getClassByObject" class="node"><rect x="1295" y="3231" width="159" height="26"/><text x="1374.5" y="3248.5">ilCtrl\getClassByObject</text></g>
<g id="n_setParameterByClass" class="node"><rect x="1283" y="3281" width="182" height="26"/><text x="1374" y="3298.5">ilCtrl\setParameterByClass</text></g>
<g id="n_getDefaultSkinId" class="node"><rect x="1304" y="3333" width="141" height="40"/><text x="1374.5" y="3349">ilSystemStyleConfig<tspan x="1374.5" dy="14.5">\getDefaultSkinId</tspan></text></g>
<g id="n_getDefaultStyleId" class="node"><rect x="1304" y="3398" width="141" height="40"/><text x="1374.5" y="3414">ilSystemStyleConfig<tspan x="1374.5" dy="14.5">\getDefaultStyleId</tspan></text></g>
<g id="n_getSystemStyleCategoryAssignments" class="node"><rect x="1250" y="3464" width="248" height="40"/><text class="l" x="1260" y="3480">ilSystemStyleSettings<tspan x="1260" dy="14.5">\getSystemStyleCategoryAssignments</tspan></text></g>
<g id="n_getFilterItems" class="node"><rect x="1287" y="3667" width="174" height="26"/><text x="1374" y="3684.5">ilTable2GUI\getFilterItems</text></g>
<g id="n_getDefaultFilterVisibility" class="node"><rect x="1282" y="3811" width="185" height="40"/><text x="1374.5" y="3827">ilTable2GUI\getDefaultFilter<tspan x="1374.5" dy="14.5">Visibility</tspan></text></g>
<g id="n_cleanupNonCharachters" class="node"><rect x="1546" y="6" width="206" height="26"/><text x="1649" y="23.5">ilExcel\cleanupNonCharachters</text></g>
<g id="n_dateTimeGet" class="node"><rect x="1595" y="181" width="107" height="26"/><text x="1648.5" y="198.5">ilDateTime\get</text></g>
<g id="n_setOffset" class="node"><rect x="1577" y="803" width="144" height="26"/><text x="1649" y="820.5">ilTableGUI\setOffset</text></g>
<g id="n_getOrderDirection" class="node"><rect x="1554" y="879" width="191" height="26"/><text x="1649.5" y="896.5">ilTableGUI\getOrderDirection</text></g>
<g id="n_getOrderField" class="node"><rect x="1562" y="1017" width="174" height="26"/><text x="1649" y="1034.5">ilTable2GUI\getOrderField</text></g>
<g id="n_txt" class="node"><rect x="1597" y="1894" width="104" height="26"/><text x="1649" y="1911.5">ilLanguage\txt</text></g>
<g id="n_getId" class="node"><rect x="1587" y="2512" width="125" height="26"/><text x="1649.5" y="2529.5">ilTable2GUI\getId</text></g>
<g id="n_getIdentifier" class="node"><rect x="1803" y="106" width="159" height="26"/><text x="1882.5" y="123.5">ilTimeZone\getIdentifier</text></g>
<g id="n_getUnixTime" class="node"><rect x="1801" y="156" width="163" height="26"/><text x="1882.5" y="173.5">ilDateTime\getUnixTime</text></g>
<g id="n_getInstance" class="node"><rect x="1800" y="257" width="165" height="26"/><text x="1882.5" y="274.5">ilTimeZone\_getInstance</text></g>
<g id="n_int" class="node"><rect x="1812" y="681" width="140" height="26"/><text x="1882" y="698.5">ILIAS\Repository\int</text></g>
<g id="n_isNull" class="node"><rect x="2023" y="182" width="122" height="26"/><text x="2084" y="199.5">ilDateTime\isNull</text></g>
<g id="n_str" class="node"><rect x="2012" y="706" width="142" height="26"/><text x="2083" y="723.5">ILIAS\Repository\str</text></g>
<g id="n_isArray" class="node"><rect x="2202" y="756" width="167" height="26"/><text x="2285.5" y="773.5">ILIAS\Repository\isArray</text></g>
<g id="n_refinery" class="node"><rect x="2417" y="706" width="169" height="26"/><text x="2501.5" y="723.5">ILIAS\Repository\refinery</text></g>
<g id="n_http" class="node"><rect x="2427" y="756" width="149" height="26"/><text x="2501.5" y="773.5">ILIAS\Repository\http</text></g>
<g id="n_strip" class="node"><rect x="2211" y="1473" width="150" height="26"/><text x="2286" y="1490.5">ILIAS\Repository\strip</text></g>
<g id="n_stripSlashes" class="node"><rect x="2440" y="1499" width="123" height="26"/><text x="2501.5" y="1516.5">ilUtil\stripSlashes</text></g>
<g id="n_secureString" class="node"><rect x="2634" y="1499" width="125" height="26"/><text x="2696.5" y="1516.5">ilUtil\secureString</text></g>
<g id="n_getSecureTags" class="node"><rect x="2820" y="1423" width="142" height="26"/><text x="2891" y="1440.5">ilUtil\getSecureTags</text></g>
<g id="n_maskSecureTags" class="node"><rect x="2814" y="1474" width="155" height="26"/><text x="2891.5" y="1491.5">ilUtil\maskSecureTags</text></g>
<g id="n_unmaskSecureTags" class="node"><rect x="2807" y="1525" width="169" height="26"/><text x="2891.5" y="1542.5">ilUtil\unmaskSecureTags</text></g>
<g id="n_stripScriptHTML" class="node"><rect x="2819" y="1575" width="146" height="26"/><text x="2892" y="1592.5">ilUtil\stripScriptHTML</text></g>
<g id="n_maskAttributeTag" class="node"><rect x="3031" y="1423" width="155" height="26"/><text x="3108.5" y="1440.5">ilUtil\maskAttributeTag</text></g>
<g id="n_maskTag" class="node"><rect x="3055" y="1474" width="105" height="26"/><text x="3107.5" y="1491.5">ilUtil\maskTag</text></g>
<g id="n_unmaskAttributeTag" class="node"><rect x="3023" y="1525" width="170" height="26"/><text x="3108" y="1542.5">ilUtil\unmaskAttributeTag</text></g>
<g id="n_unmaskTag" class="node"><rect x="3048" y="1575" width="120" height="26"/><text x="3108" y="1592.5">ilUtil\unmaskTag</text></g>
<g id="n_secureLink" class="node"><rect x="3241" y="1525" width="115" height="26"/><text x="3298.5" y="1542.5">ilUtil\secureLink</text></g>
</svg>
